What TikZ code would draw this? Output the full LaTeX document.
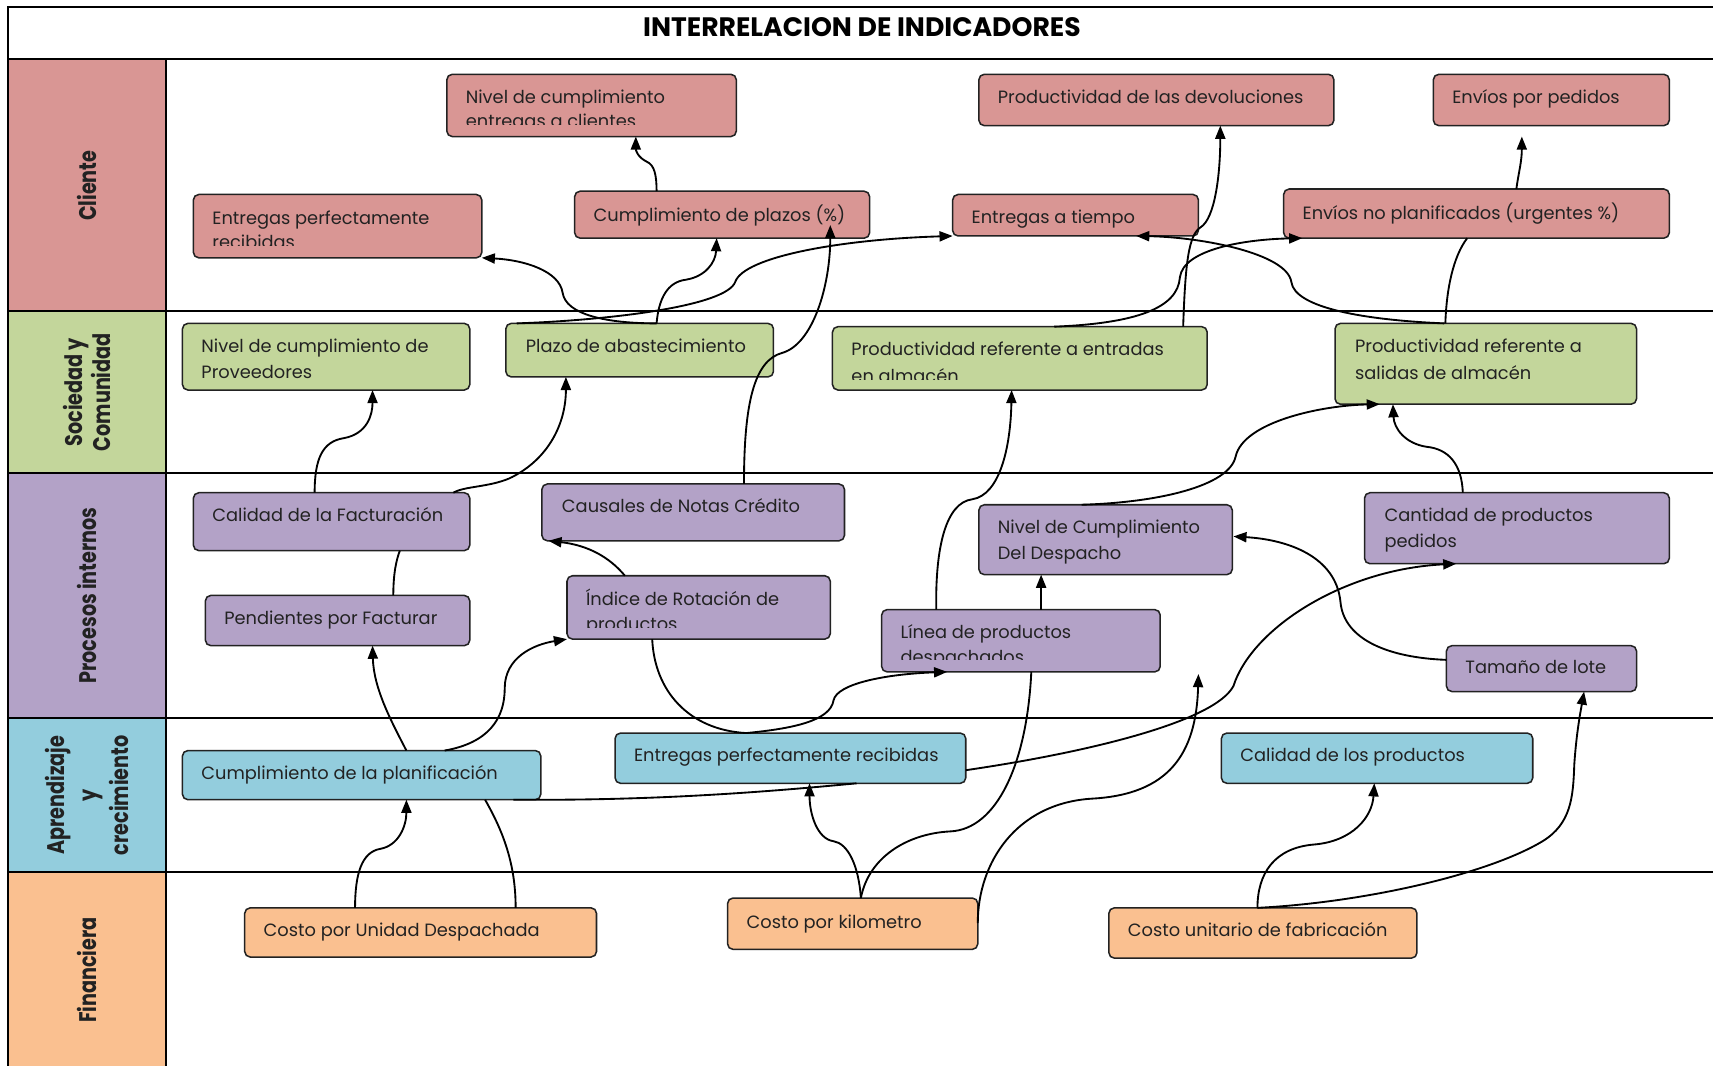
\documentclass[tikz,border=0pt]{standalone}
\usepackage{fontspec}
\setmainfont{Poppins}
\usetikzlibrary{calc,fit,arrows.meta}

\definecolor{cliPink}{HTML}{D99694}
\definecolor{socGreen}{HTML}{C3D69B}
\definecolor{proPurple}{HTML}{B3A2C7}
\definecolor{aprBlue}{HTML}{93CDDD}
\definecolor{finOrange}{HTML}{FAC090}
\definecolor{ink}{HTML}{222222}

\tikzset{
  kpi/.style={draw=ink, line width=0.7pt, rounded corners=2.5pt, inner sep=0pt, outer sep=0pt},
  kpiCli/.style={kpi, fill=cliPink},
  kpiSoc/.style={kpi, fill=socGreen},
  kpiPro/.style={kpi, fill=proPurple},
  kpiApr/.style={kpi, fill=aprBlue},
  kpiFin/.style={kpi, fill=finOrange},
  txt/.style={anchor=mid west, inner sep=0pt, text=ink, font=\fontsize{8.15}{10}\selectfont},
  link/.style={draw=black, line width=0.85pt},
  arr/.style={link, -{Triangle[length=6pt,width=4.6pt]}},
  laneline/.style={draw=black, line width=0.9pt},
  lanelabel/.style={rotate=90, xscale=0.8, align=center, inner sep=0pt, text=ink,
    font=\fontsize{11}{13}\selectfont\bfseries},
}

\begin{document}
\begin{tikzpicture}[x=0.5pt,y=-0.5pt]
\useasboundingbox (0,0) rectangle (1568,976);

% lane label column
\fill[cliPink]    (7,54)  rectangle (152,285);
\fill[socGreen]   (7,285) rectangle (152,433);
\fill[proPurple]  (7,433) rectangle (152,657);
\fill[aprBlue]    (7,657) rectangle (152,798);
\fill[finOrange]  (7,798) rectangle (152,976);

% frame and lane separators
\draw[laneline] (1568,6) -- (7,6) -- (7,976);
\draw[laneline] (152,54) -- (152,976);
\foreach \yy in {54,285,433,657,798}
  \draw[laneline] (7,\yy) -- (1568,\yy);

% title
\node[font=\fontsize{12.2}{14}\selectfont\bfseries, inner sep=0pt] (title) at (789,25) {INTERRELACION DE INDICADORES};

% lane labels
\node[lanelabel] (lblCli) at (79.5,170) {Cliente};
\node[lanelabel, font=\fontsize{11}{13}\selectfont\bfseries] (lblSoc) at (79.5,359) {Sociedad y\\Comunidad};
\node[lanelabel] (lblPro) at (79.5,545) {Procesos internos};
\node[lanelabel, font=\fontsize{11}{14.5}\selectfont\bfseries] (lblApr) at (79.5,728) {Aprendizaje\\y\\crecimiento};
\node[lanelabel] (lblFin) at (79.5,888) {Financiera};

% ---- Cliente
\node[kpiCli, fit={(409,68) (674,125)}]   (cNivelEnt) {};
\node[kpiCli, fit={(896,68) (1221,115)}]  (cDevol) {};
\node[kpiCli, fit={(1312,68) (1528,115)}] (cEnvPed) {};
\node[kpiCli, fit={(177,178) (441,236)}]  (cEntPerf) {};
\node[kpiCli, fit={(526,175) (796,218)}]  (cPlazos) {};
\node[kpiCli, fit={(872,178) (1097,216)}] (cTiempo) {};
\node[kpiCli, fit={(1175,173) (1528,218)}] (cNoPlan) {};
% ---- Sociedad y Comunidad
\node[kpiSoc, fit={(167,296) (430,357)}]  (sProv) {};
\node[kpiSoc, fit={(463,296) (708,345)}]  (sAbast) {};
\node[kpiSoc, fit={(762,299) (1105,357)}] (sEntr) {};
\node[kpiSoc, fit={(1222,296) (1498,370)}] (sSal) {};
% ---- Procesos internos
\node[kpiPro, fit={(177,451) (430,504)}]  (pFact) {};
\node[kpiPro, fit={(496,443) (773,495)}]  (pNotas) {};
\node[kpiPro, fit={(188,545) (430,591)}]  (pPend) {};
\node[kpiPro, fit={(519,527) (760,585)}]  (pRot) {};
\node[kpiPro, fit={(896,462) (1128,526)}] (pDesp) {};
\node[kpiPro, fit={(1249,451) (1528,516)}] (pCant) {};
\node[kpiPro, fit={(807,558) (1062,615)}] (pLinea) {};
\node[kpiPro, fit={(1324,591) (1498,633)}] (pLote) {};
% ---- Aprendizaje y crecimiento
\node[kpiApr, fit={(167,687) (495,732)}]  (aPlan) {};
\node[kpiApr, fit={(563,671) (884,717)}]  (aEntPerf) {};
\node[kpiApr, fit={(1118,671) (1403,717)}] (aCal) {};
% ---- Financiera
\node[kpiFin, fit={(224,831) (546,876)}]  (fUnidad) {};
\node[kpiFin, fit={(666,822) (895,869)}]  (fKm) {};
\node[kpiFin, fit={(1015,831) (1297,877)}] (fFab) {};

% box texts
\begin{scope}
  \clip (cNivelEnt.north west) rectangle ($(cNivelEnt.south east)+(0,-11)$);
  \node[txt] (tNivelEntA) at (426,89) {Nivel de cumplimiento};
  \node[txt] (tNivelEntB) at (426,111) {entregas a clientes};
\end{scope}
\node[txt] (tDevol) at (913,89) {Productividad de las devoluciones};
\node[txt] (tEnvPed) at (1329,89) {Envíos por pedidos};
\begin{scope}
  \clip (cEntPerf.north west) rectangle ($(cEntPerf.south east)+(0,-11)$);
  \node[txt] (tEntPerfA) at (194,200) {Entregas perfectamente};
  \node[txt] (tEntPerfB) at (194,222) {recibidas};
\end{scope}
\node[txt] (tPlazos) at (543,197) {Cumplimiento de plazos (\%)};
\node[txt] (tTiempo) at (889,199) {Entregas a tiempo};
\node[txt] (tNoPlan) at (1192,195) {Envíos no planificados (urgentes \%)};

\node[txt] (tProvA) at (184,317) {Nivel de cumplimiento de};
\node[txt] (tProvB) at (184,341) {Proveedores};
\node[txt] (tAbast) at (481,317) {Plazo de abastecimiento};
\begin{scope}
  \clip (sEntr.north west) rectangle ($(sEntr.south east)+(0,-10)$);
  \node[txt] (tEntrA) at (779,320) {Productividad referente a entradas};
  \node[txt] (tEntrB) at (779,345) {en almacén};
\end{scope}
\node[txt] (tSalA) at (1240,317) {Productividad referente a};
\node[txt] (tSalB) at (1240,342) {salidas de almacén};

\node[txt] (tFact) at (194,472) {Calidad de la Facturación};
\node[txt] (tNotas) at (514,464) {Causales de Notas Crédito};
\node[txt] (tPend) at (205,566) {Pendientes por Facturar};
\begin{scope}
  \clip (pRot.north west) rectangle ($(pRot.south east)+(0,-11)$);
  \node[txt] (tRotA) at (536,549) {Índice de Rotación de};
  \node[txt] (tRotB) at (536,572) {productos};
\end{scope}
\node[txt] (tDespA) at (913,483) {Nivel de Cumplimiento};
\node[txt] (tDespB) at (913,507) {Del Despacho};
\node[txt] (tCantA) at (1267,472) {Cantidad de productos};
\node[txt] (tCantB) at (1267,496) {pedidos};
\begin{scope}
  \clip (pLinea.north west) rectangle ($(pLinea.south east)+(0,-11)$);
  \node[txt] (tLineaA) at (824,579) {Línea de productos};
  \node[txt] (tLineaB) at (824,602) {despachados};
\end{scope}
\node[txt] (tLote) at (1341,611) {Tamaño de lote};

\node[txt] (tPlan) at (184,708) {Cumplimiento de la planificación};
\node[txt] (tEntPerf2) at (580,692) {Entregas perfectamente recibidas};
\node[txt] (tCal) at (1135,692) {Calidad de los productos};

\node[txt] (tUnidad) at (241,852) {Costo por Unidad Despachada};
\node[txt] (tKm) at (683,844) {Costo por kilometro};
\node[txt] (tFab) at (1032,852) {Costo unitario de fabricación};

% ---- connectors
\coordinate (looseEnd) at (1097,617);

% Cliente lane
\draw[arr] ($(cPlazos.north west)+(75,0)$) .. controls (601,160) and (599,151) .. (592,148)
  .. controls (584,144) and (582,138) .. ($(cNivelEnt.south west)+(173,0)$);
\draw[arr] ($(cNoPlan.north west)+(213,0)$) .. controls (1390,158) and (1393,148) .. ($(cEnvPed.south west)+(81,10)$);

% from Plazo de abastecimiento
\draw[arr] ($(sAbast.north west)+(138,0)$) .. controls (555,296) and (518,288) .. (515,268)
  .. controls (512,248) and (480,238) .. (cEntPerf.south east);
\draw[arr] ($(sAbast.north west)+(138,0)$) .. controls (603,273) and (611,258) .. (628,256)
  .. controls (646,253) and (655,240) .. ($(cPlazos.south west)+(130,0)$);
\draw[arr] ($(sAbast.north west)+(10,0)$) .. controls (560,293) and (665,280) .. (673,258)
  .. controls (681,235) and (770,219) .. (cTiempo.south west);

% Causales de Notas Credito -> Cumplimiento de plazos
\draw[arr] ($(pNotas.north west)+(185,0)$) .. controls (681,370) and (690,330) .. (716,323)
  .. controls (744,315) and (760,262) .. ($(cPlazos.south west)+(234,-12)$);

% from Productividad referente a entradas
\draw[arr] ($(sEntr.north west)+(321,0)$) .. controls (1085,240) and (1088,215) .. (1099,208)
  .. controls (1112,200) and (1117,160) .. ($(cDevol.south west)+(221,0)$);
\draw[arr] ($(sEntr.north west)+(203,0)$) .. controls (1040,296) and (1078,282) .. (1080,254)
  .. controls (1083,228) and (1140,219) .. ($(cNoPlan.south west)+(17,0)$);

% from Productividad referente a salidas
\draw[arr] ($(sSal.north west)+(100,0)$) .. controls (1250,293) and (1185,282) .. (1182,258)
  .. controls (1178,232) and (1100,217) .. ($(cTiempo.south west)+(168,0)$);
\draw[link] ($(sSal.north west)+(101,0)$) .. controls (1324,265) and (1330,235) .. ($(cNoPlan.south west)+(168,0)$);

% Procesos internos -> Sociedad
\draw[arr] ($(pFact.north west)+(111,0)$) .. controls (288,420) and (295,404) .. (315,401)
  .. controls (336,397) and (341,380) .. ($(sProv.south west)+(174,0)$);
\draw[arr] ($(pFact.north east)+(-15,0)$) .. controls (425,445) and (447,446) .. (466,438)
  .. controls (500,422) and (518,390) .. ($(sAbast.south west)+(55,0)$);
\draw[link] ($(pPend.north west)+(172,0)$) .. controls (360,524) and (363,512) .. ($(pFact.south west)+(189,0)$);
\draw[arr] ($(pRot.north west)+(53,0)$) .. controls (558,510) and (538,499) .. ($(pNotas.south west)+(6,0)$);
\draw[arr] ($(pLinea.north west)+(50,0)$) .. controls (856,500) and (866,460) .. (890,457)
  .. controls (915,453) and (925,410) .. ($(sEntr.south west)+(164,0)$);
\draw[arr] ($(pLinea.north west)+(146,0)$) -- ($(pDesp.south west)+(57,0)$);
\draw[arr] ($(pDesp.north west)+(94,0)$) .. controls (1060,460) and (1125,445) .. (1131,418)
  .. controls (1138,386) and (1210,371) .. ($(sSal.south west)+(41,0)$);
\draw[arr] ($(pCant.north west)+(90,0)$) .. controls (1338,425) and (1326,411) .. (1306,409)
  .. controls (1286,406) and (1276,392) .. ($(sSal.south west)+(53,0)$);
\draw[arr] ($(pLote.north west)+(0,13)$) .. controls (1270,602) and (1230,585) .. (1227,551)
  .. controls (1223,510) and (1180,494) .. ($(pDesp.north east)+(1,29)$);

% Aprendizaje -> Procesos
\draw[arr] ($(aPlan.north west)+(205,0)$) .. controls (358,660) and (342,630) .. ($(pPend.south west)+(153,0)$);
\draw[arr] ($(aPlan.north west)+(240,0)$) .. controls (447,680) and (462,658) .. (462,630)
  .. controls (462,602) and (488,590) .. (pRot.south west);
\draw[link] ($(pRot.south west)+(78,0)$) .. controls (599,632) and (630,668) .. ($(aEntPerf.north west)+(120,0)$);
\draw[arr] ($(aEntPerf.north west)+(120,0)$) .. controls (725,667) and (760,660) .. (763,641)
  .. controls (766,626) and (810,617) .. ($(pLinea.south west)+(60,0)$);
\draw[link] ($(aPlan.south west)+(303,0)$) .. controls (600,733) and (700,725) .. ($(aEntPerf.south west)+(221,0)$);
\draw[arr] ($(aEntPerf.south east)+(0,-12)$) .. controls (1000,688) and (1112,660) .. (1129,628)
  .. controls (1146,575) and (1230,521) .. ($(pCant.south west)+(84,0)$);

% Financiera
\draw[link] ($(fUnidad.north west)+(248,0)$) .. controls (472,790) and (460,760) .. ($(aPlan.south west)+(277,0)$);
\draw[arr] ($(fUnidad.north west)+(101,0)$) .. controls (325,800) and (331,780) .. (348,777)
  .. controls (365,774) and (372,756) .. ($(aPlan.south west)+(205,0)$);
\draw[arr] ($(fKm.north west)+(122,0)$) .. controls (786,792) and (776,772) .. (763,770)
  .. controls (748,768) and (741,745) .. ($(aEntPerf.south west)+(178,0)$);
\draw[link] ($(fKm.north west)+(122,0)$) .. controls (795,785) and (830,763) .. (870,761)
  .. controls (912,759) and (940,700) .. ($(pLinea.south west)+(137,0)$);
\draw[arr] ($(fKm.north east)+(0,23)$) .. controls (895,790) and (930,735) .. (1000,731)
  .. controls (1070,727) and (1095,690) .. (looseEnd);
\draw[arr] ($(fFab.north west)+(136,0)$) .. controls (1151,800) and (1166,776) .. (1203,773)
  .. controls (1238,770) and (1256,748) .. ($(aCal.south west)+(140,0)$);
\draw[arr] ($(fFab.north west)+(136,0)$) .. controls (1250,826) and (1362,800) .. (1412,770)
  .. controls (1438,754) and (1440,730) .. (1441,700)
  .. controls (1443,670) and (1447,650) .. ($(pLote.south west)+(126,0)$);

\end{tikzpicture}
\end{document}
